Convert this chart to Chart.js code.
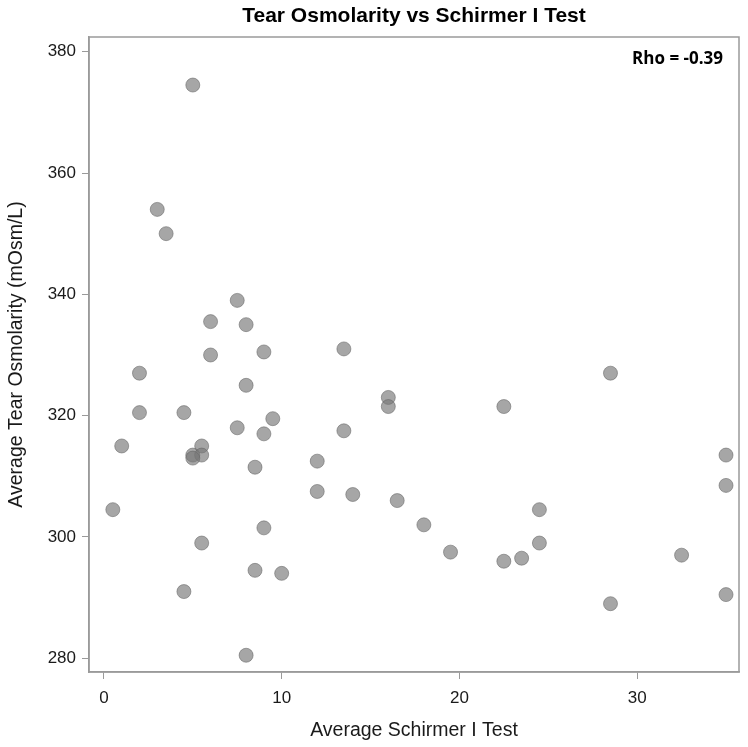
<!DOCTYPE html>
<html lang="en">

<head>
    <meta charset="UTF-8">
    <title>Tear Osmolarity vs Schirmer I Test</title>
    <style>
        body { margin: 0; background: #fff; }
    </style>
</head>

<body>
    <canvas id="myChart" width="748" height="747"></canvas>

    <script src="https://cdn.jsdelivr.net/npm/chart.js@4.4.1/dist/chart.umd.min.js"></script>
    <script>
        // values
        var schirmer = [5, 3, 3.5, 7.5, 6, 8, 6, 9, 13.5, 2, 8, 16, 16, 22.5, 28.5,
            2, 4.5, 9.5, 7.5, 9, 13.5, 1, 5.5, 5, 5.5, 5, 8.5, 12, 12, 14, 16.5,
            0.5, 18, 9, 24.5, 35, 35, 5.5, 19.5, 24.5, 22.5, 23.5, 32.5, 8.5, 10,
            4.5, 28.5, 35, 8];
        var osmolarity = [374.5, 354, 350, 339, 335.5, 335, 330, 330.5, 331, 327, 325, 323, 321.5, 321.5, 327,
            320.5, 320.5, 319.5, 318, 317, 317.5, 315, 315, 313.5, 313.5, 313, 311.5, 312.5, 307.5, 307, 306,
            304.5, 302, 301.5, 304.5, 313.5, 308.5, 299, 297.5, 299, 296, 296.5, 297, 294.5, 294,
            291, 289, 290.5, 280.5];
        var xTicks = [0, 10, 20, 30];
        var yTicks = [280, 300, 320, 340, 360, 380];
        var rhoLabel = 'Rho = -0.39';

        var points = schirmer.map(function (x, i) {
            return { x: x, y: osmolarity[i] };
        });

        var frameColor = '#9a9a9a';
        var textColor = '#1a1a1a';
        var family = '"Liberation Sans", Arial, sans-serif';

        var framePlugin = {
            id: 'frame',
            beforeDatasetsDraw: function (chart) {
                var a = chart.chartArea, c = chart.ctx;
                c.save();
                c.strokeStyle = frameColor;
                c.lineWidth = 1.5;
                c.strokeRect(a.left, a.top, a.right - a.left, a.bottom - a.top);
                c.restore();
            },
            afterDatasetsDraw: function (chart) {
                var a = chart.chartArea, c = chart.ctx;
                c.save();
                c.fillStyle = '#000';
                c.font = 'bold 17px "Open Sans", Lato, sans-serif';
                c.textAlign = 'right';
                c.textBaseline = 'middle';
                c.fillText(rhoLabel, a.right - 16, a.top + 22);
                c.restore();
            }
        };

        var ctx = document.getElementById('myChart');
        var config = {
            type: 'scatter',
            data: {
                datasets: [
                    {
                        data: points,
                        pointRadius: 7,
                        pointHoverRadius: 7,
                        pointBackgroundColor: 'rgba(120, 120, 120, 0.66)',
                        pointBorderColor: 'rgba(100, 100, 100, 0.55)',
                        pointBorderWidth: 1
                    }
                ]
            },
            options: {
                responsive: false,
                animation: false,
                layout: { padding: { right: 9 } },
                plugins: {
                    legend: { display: false },
                    tooltip: { enabled: false },
                    title: {
                        display: true,
                        text: 'Tear Osmolarity vs Schirmer I Test',
                        fullSize: false,
                        color: '#000',
                        font: { family: family, size: 21, weight: 'bold' },
                        padding: { top: 3.9, bottom: 7.9 }
                    }
                },
                scales: {
                    x: {
                        type: 'linear',
                        min: -0.84,
                        max: 35.73,
                        afterBuildTicks: function (scale) {
                            scale.ticks = xTicks.map(function (v) { return { value: v }; });
                        },
                        afterFit: function (scale) { scale.height = 75; },
                        grid: { drawOnChartArea: false, tickLength: 7, color: frameColor },
                        border: { color: frameColor, width: 1.5 },
                        ticks: { color: textColor, padding: 9, font: { family: family, size: 17 } },
                        title: {
                            display: true,
                            text: 'Average Schirmer I Test',
                            color: textColor,
                            font: { family: family, size: 19.5 },
                            padding: { top: 4.3, bottom: 4.3 }
                        }
                    },
                    y: {
                        min: 277.74,
                        max: 382.42,
                        afterBuildTicks: function (scale) {
                            scale.ticks = yTicks.map(function (v) { return { value: v }; });
                        },
                        afterFit: function (scale) { scale.width = 89; },
                        grid: { drawOnChartArea: false, tickLength: 7, color: frameColor },
                        border: { color: frameColor, width: 1.5 },
                        ticks: { color: textColor, padding: 6, font: { family: family, size: 17 } },
                        title: {
                            display: true,
                            text: 'Average Tear Osmolarity (mOsm/L)',
                            color: textColor,
                            font: { family: family, size: 19.5 },
                            padding: { top: 5.3, bottom: 5.3 }
                        }
                    }
                }
            },
            plugins: [framePlugin]
        };
        var chart = new Chart(ctx, config);
    </script>

</body>

</html>
